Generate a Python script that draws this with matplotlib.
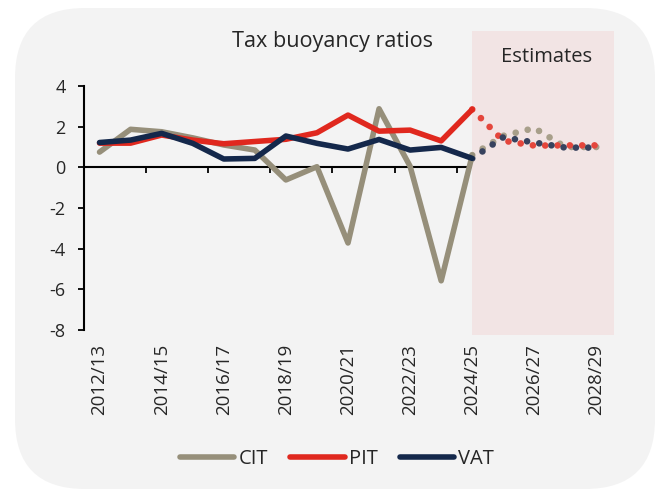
import matplotlib
matplotlib.use("Agg")
import matplotlib.pyplot as plt
from matplotlib.patches import FancyBboxPatch, Rectangle
from matplotlib.lines import Line2D
from matplotlib.transforms import IdentityTransform

# ---------------- data ----------------
years = ["2012/13", "2013/14", "2014/15", "2015/16", "2016/17", "2017/18",
         "2018/19", "2019/20", "2020/21", "2021/22", "2022/23", "2023/24",
         "2024/25", "2025/26", "2026/27", "2027/28", "2028/29"]

# outturn 2012/13 .. 2024/25
cit_actual = [0.75, 1.87, 1.75, 1.45, 1.10, 0.85, -0.62, 0.03, -3.72, 2.88, 0.05, -5.58, 0.60]
pit_actual = [1.19, 1.19, 1.59, 1.34, 1.16, 1.27, 1.38, 1.70, 2.57, 1.78, 1.83, 1.30, 2.85]
vat_actual = [1.22, 1.34, 1.67, 1.18, 0.41, 0.44, 1.54, 1.18, 0.90, 1.37, 0.85, 0.98, 0.44]

# estimates 2024/25 .. 2028/29
cit_est = [0.60, 1.55, 1.93, 1.00, 1.00]
pit_est = [2.85, 1.31, 1.07, 1.08, 1.08]
vat_est = [0.44, 1.48, 1.22, 0.97, 0.97]

series_names = ["CIT", "PIT", "VAT"]
title = "Tax buoyancy ratios"
estimate_label = "Estimates"
estimate_start = "2024/25"

# ---------------- style ----------------
plt.rcParams["font.family"] = ["Open Sans", "DejaVu Sans"]
plt.rcParams["axes.unicode_minus"] = False

col_cit, col_pit, col_vat = "#968f7a", "#e0281e", "#14284b"
col_cit_e, col_pit_e, col_vat_e = "#a89f8a", "#e4463c", "#37425e"
text_col = "#262626"

W, H = 660, 499
fig = plt.figure(figsize=(W / 100, H / 100), dpi=100, facecolor="white")

# rounded light-grey card
card = FancyBboxPatch((15, 10), 640, 481,
                      boxstyle="round,pad=0,rounding_size=70",
                      transform=IdentityTransform(),
                      facecolor="#f3f3f3", edgecolor="none", zorder=0)
fig.add_artist(card)

ax = fig.add_axes([84 / W, 169 / H, 528 / W, 244 / H])
ax.set_facecolor("none")
ax.set_xlim(-0.5, len(years) - 0.5)
ax.set_ylim(-8, 4)

x_all = list(range(len(years)))
i0 = years.index(estimate_start)
x_act = x_all[: i0 + 1]
x_est = x_all[i0:]

# estimates shading
ax.add_patch(Rectangle((i0, -8.25), (len(years) - 0.5 - i0) + 0.07, 14.95,
                       facecolor="#f2e4e4", edgecolor="none", zorder=1,
                       clip_on=False))

solid_kw = dict(lw=4, solid_capstyle="round", solid_joinstyle="round")
dot_kw = dict(lw=4.8, linestyle=(0, (0.001, 1.85)), dash_capstyle="round")

ax.plot(x_est, cit_est, color=col_cit_e, zorder=3, **dot_kw)
ax.plot(x_est, pit_est, color=col_pit_e, zorder=4, **dot_kw)
ax.plot(x_est, vat_est, color=col_vat_e, zorder=5, **dot_kw)
ax.plot(x_act, cit_actual, color=col_cit, zorder=6, **solid_kw)
ax.plot(x_act, pit_actual, color=col_pit, zorder=7, **solid_kw)
ax.plot(x_act, vat_actual, color=col_vat, zorder=8, **solid_kw)

# axes styling
for s in ["top", "right", "bottom"]:
    ax.spines[s].set_visible(False)
ax.spines["left"].set_linewidth(1.5)
ax.spines["left"].set_color("black")
ax.set_yticks(range(-8, 5, 2))
ax.tick_params(axis="y", length=4.3, width=1.3, direction="out",
               pad=9, labelsize=13, labelcolor=text_col, color="black")

ax.set_xticks(x_all[::2])
ax.set_xticklabels(years[::2], rotation=90)
ax.tick_params(axis="x", length=0, pad=10, labelsize=13.5, labelcolor=text_col)

# zero line with category-boundary tick marks
sec = ax.secondary_xaxis(0, transform=ax.transData)
sec.set_xticks([b - 0.5 for b in x_all[2::2]])
sec.tick_params(axis="x", length=4.3, width=1.3, direction="out",
                labelbottom=False, labeltop=False, color="black")
for s in sec.spines.values():
    s.set_linewidth(1.5)
    s.set_color("black")

# titles
fig.text(333 / W, 1 - 46.5 / H, title, ha="center", va="baseline",
         fontsize=15.6, color=text_col)
fig.text(547 / W, 1 - 62.5 / H, estimate_label, ha="center", va="baseline",
         fontsize=14.5, color=text_col)

# legend
handles = [Line2D([], [], color=c, lw=4, solid_capstyle="round")
           for c in (col_cit, col_pit, col_vat)]
fig.legend(handles, series_names, loc="center", bbox_to_anchor=(337 / W, 1 - 459 / H),
           ncol=3, frameon=False, handlelength=2.7, handletextpad=0.2,
           columnspacing=1.1, fontsize=14.5, labelcolor=text_col)

fig.savefig("out.png", dpi=100, facecolor="white")
